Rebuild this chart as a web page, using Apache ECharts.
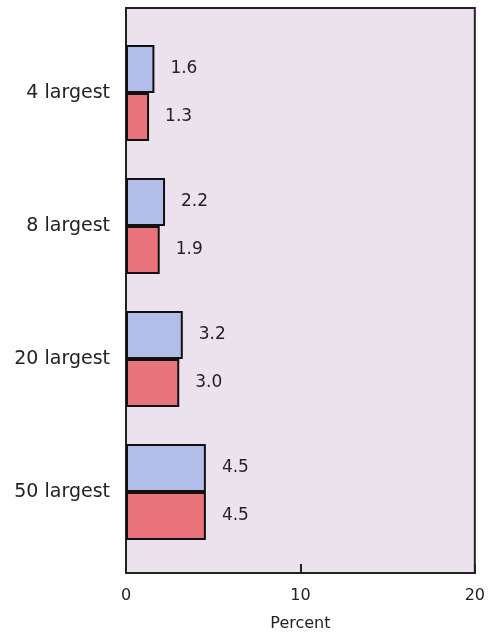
<!DOCTYPE html>
<html>
<head>
<meta charset="utf-8">
<script src="https://cdn.jsdelivr.net/npm/echarts@6/dist/echarts.min.js"></script>
<style>html,body{margin:0;padding:0;background:#fff}#c{width:488px;height:637px}</style>
</head>
<body>
<div id="c"></div>
<script>
const categories = ['4 largest', '8 largest', '20 largest', '50 largest'];
const blueValues = [1.6, 2.2, 3.2, 4.5];
const redValues = [1.3, 1.9, 3.0, 4.5];
const xTicks = [0, 10, 20];
const xTitle = 'Percent';

const chart = echarts.init(document.getElementById('c'));
const font = 'DejaVu Sans, sans-serif';
const lbl = {
  show: true, position: 'right', distance: 16,
  fontSize: 17, color: '#222', fontFamily: font,
  formatter: p => p.value.toFixed(1)
};
chart.setOption({
  animation: false,
  backgroundColor: '#fff',
  grid: [
    {left: 126, right: 7, top: 8, bottom: 60, show: true, backgroundColor: '#ece2ee', borderColor: '#222', borderWidth: 2},
    {left: 126, right: 7, top: 26.5, bottom: 78.5}
  ],
  xAxis: [
    {type: 'value', gridIndex: 0, min: xTicks[0], max: xTicks[xTicks.length-1], interval: 10,
     splitLine: {show: false},
     axisLine: {show: true, lineStyle: {color: '#222', width: 2}},
     axisTick: {show: true, inside: true, length: 9, lineStyle: {color: '#222', width: 2}},
     axisLabel: {fontSize: 16, color: '#222', margin: 15, fontFamily: font},
     name: xTitle, nameLocation: 'middle', nameGap: 43,
     nameTextStyle: {fontSize: 16, color: '#222', fontFamily: font}},
    {type: 'value', gridIndex: 1, min: xTicks[0], max: xTicks[xTicks.length-1], show: false}
  ],
  yAxis: [
    {type: 'value', gridIndex: 0, show: false},
    {type: 'category', gridIndex: 1, data: categories, inverse: true,
     axisLine: {show: false}, axisTick: {show: false},
     axisLabel: {fontSize: 19, color: '#222', margin: 16, fontFamily: font, padding: [4, 0, 0, 0]}}
  ],
  series: [
    {type: 'bar', xAxisIndex: 1, yAxisIndex: 1, data: blueValues, barWidth: 48, barGap: '0%',
     itemStyle: {color: '#b3bde9', borderColor: '#111', borderWidth: 2}, label: lbl},
    {type: 'bar', xAxisIndex: 1, yAxisIndex: 1, data: redValues, barWidth: 48, barGap: '0%',
     itemStyle: {color: '#e8737a', borderColor: '#111', borderWidth: 2}, label: lbl}
  ]
});
</script>
</body>
</html>
